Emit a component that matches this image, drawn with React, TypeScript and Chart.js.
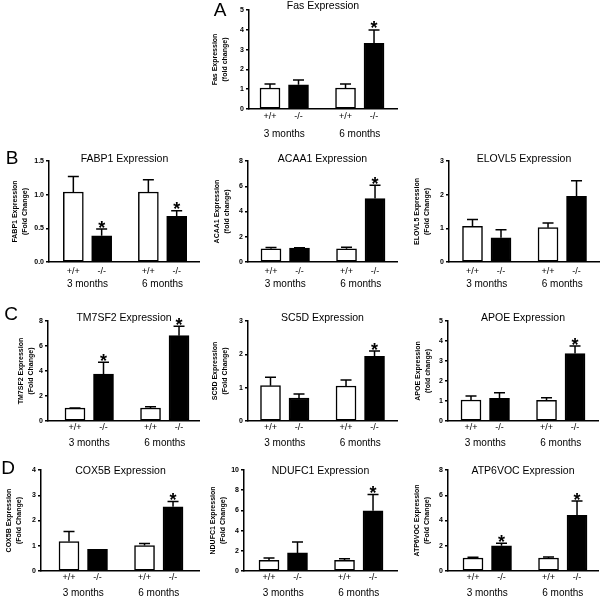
import React, { useEffect, useRef } from "react";
import { Chart, registerables } from "chart.js";

Chart.register(...registerables);

const FAMILY = '"Liberation Sans", Arial, Helvetica, sans-serif';

// ---- categories ----
const GENOTYPES = ["+/+", "-/-", "+/+", "-/-"];
const AGES = ["3 months", "6 months"];
const FILLS = ["#ffffff", "#000000", "#ffffff", "#000000"];

// ---- data (mean, SEM, significance) ----
const FAS_MEAN = [1.06, 1.22, 1.06, 3.32];
const FAS_SEM = [0.2, 0.24, 0.2, 0.67];
const FAS_SIG = [false, false, false, true];

const FABP1_MEAN = [1.04, 0.39, 1.04, 0.68];
const FABP1_SEM = [0.23, 0.1, 0.18, 0.08];
const FABP1_SIG = [false, true, false, true];

const ACAA1_MEAN = [1.05, 1.1, 1.05, 5.02];
const ACAA1_SEM = [0.1, 0.02, 0.12, 1.05];
const ACAA1_SIG = [false, false, false, true];

const ELOVL5_MEAN = [1.06, 0.72, 1.02, 1.95];
const ELOVL5_SEM = [0.2, 0.24, 0.14, 0.46];
const ELOVL5_SIG = [false, false, false, false];

const TM7SF2_MEAN = [1.03, 3.75, 1.04, 6.83];
const TM7SF2_SEM = [0.02, 0.96, 0.1, 0.75];
const TM7SF2_SIG = [false, true, false, true];

const SC5D_MEAN = [1.06, 0.69, 1.05, 1.94];
const SC5D_SEM = [0.25, 0.12, 0.18, 0.16];
const SC5D_SIG = [false, false, false, true];

const APOE_MEAN = [1.05, 1.13, 1.03, 3.37];
const APOE_SEM = [0.2, 0.28, 0.13, 0.38];
const APOE_SIG = [false, false, false, true];

const COX5B_MEAN = [1.17, 0.86, 1.01, 2.54];
const COX5B_SEM = [0.39, 0, 0.08, 0.21];
const COX5B_SIG = [false, false, false, true];

const NDUFC1_MEAN = [1.06, 1.79, 1.06, 5.96];
const NDUFC1_SEM = [0.23, 1.09, 0.16, 1.62];
const NDUFC1_SIG = [false, false, false, true];

const ATP6VOC_MEAN = [1.03, 2.0, 1.03, 4.41];
const ATP6VOC_SEM = [0.05, 0.19, 0.07, 1.13];
const ATP6VOC_SIG = [false, true, false, true];

// bar slot positions on the x scale (in bar-spacing units)
const POS = [0, 1, 2.65, 3.65];
const UNIT = 28.5;

type Panel = {
  title: string;
  yTitle: string[];
  mean: number[];
  sem: number[];
  sig: boolean[];
  yMax: number;
  yStep: number;
  decimals: number;
  left: number;
  top: number;
  width: number;
  height: number;
  axisX: number;
  plotTop: number;
  zero: number;
  right: number;
  c0: number;
  yTitleX: number;
  tickOff: number;
  monthOff: number;
  titleDy: number;
};

const PANELS: Panel[] = [
  { title: "Fas Expression", yTitle: ["Fas Expression", "(fold change)"], mean: FAS_MEAN, sem: FAS_SEM, sig: FAS_SIG, yMax: 5, yStep: 1, decimals: 0,
    left: 200, top: 0, width: 200, height: 140, axisX: 249, plotTop: 10, zero: 109, right: 397, c0: 270, yTitleX: 15, tickOff: 8, monthOff: 25, titleDy: -3.5 },
  { title: "FABP1 Expression", yTitle: ["FABP1 Expression", "(Fold Change)"], mean: FABP1_MEAN, sem: FABP1_SEM, sig: FABP1_SIG, yMax: 1.5, yStep: 0.5, decimals: 1,
    left: 0, top: 140, width: 200, height: 150, axisX: 49, plotTop: 161, zero: 262, right: 201, c0: 73.5, yTitleX: 15, tickOff: 10, monthOff: 22, titleDy: -2 },
  { title: "ACAA1 Expression", yTitle: ["ACAA1 Expression", "(fold change)"], mean: ACAA1_MEAN, sem: ACAA1_SEM, sig: ACAA1_SIG, yMax: 8, yStep: 2, decimals: 0,
    left: 200, top: 140, width: 200, height: 150, axisX: 248, plotTop: 161, zero: 262, right: 397, c0: 271, yTitleX: 17, tickOff: 10, monthOff: 22, titleDy: -2 },
  { title: "ELOVL5 Expression", yTitle: ["ELOVL5 Expression", "(Fold Change)"], mean: ELOVL5_MEAN, sem: ELOVL5_SEM, sig: ELOVL5_SIG, yMax: 3, yStep: 1, decimals: 0,
    left: 400, top: 140, width: 200, height: 150, axisX: 449, plotTop: 161, zero: 262, right: 599, c0: 472.5, yTitleX: 17, tickOff: 10, monthOff: 22, titleDy: -2 },
  { title: "TM7SF2 Expression", yTitle: ["TM7SF2 Expression", "(Fold Change)"], mean: TM7SF2_MEAN, sem: TM7SF2_SEM, sig: TM7SF2_SIG, yMax: 8, yStep: 2, decimals: 0,
    left: 0, top: 290, width: 200, height: 160, axisX: 48, plotTop: 321, zero: 421, right: 200, c0: 75, yTitleX: 21, tickOff: 7, monthOff: 22, titleDy: -2.5 },
  { title: "SC5D Expression", yTitle: ["SC5D Expression", "(Fold Change)"], mean: SC5D_MEAN, sem: SC5D_SEM, sig: SC5D_SIG, yMax: 3, yStep: 1, decimals: 0,
    left: 200, top: 290, width: 200, height: 160, axisX: 248, plotTop: 321, zero: 421, right: 397, c0: 270.5, yTitleX: 15, tickOff: 7, monthOff: 22, titleDy: -2.5 },
  { title: "APOE Expression", yTitle: ["APOE Expression", "(fold change)"], mean: APOE_MEAN, sem: APOE_SEM, sig: APOE_SIG, yMax: 5, yStep: 1, decimals: 0,
    left: 400, top: 290, width: 200, height: 160, axisX: 448, plotTop: 321, zero: 421, right: 598, c0: 471, yTitleX: 18, tickOff: 7, monthOff: 22, titleDy: -2.5 },
  { title: "COX5B Expression", yTitle: ["COX5B Expression", "(Fold Change)"], mean: COX5B_MEAN, sem: COX5B_SEM, sig: COX5B_SIG, yMax: 4, yStep: 1, decimals: 0,
    left: 0, top: 450, width: 200, height: 147, axisX: 41, plotTop: 470, zero: 571, right: 200, c0: 69, yTitleX: 9, tickOff: 7, monthOff: 22, titleDy: 1 },
  { title: "NDUFC1 Expression", yTitle: ["NDUFC1 Expression", "(Fold Change)"], mean: NDUFC1_MEAN, sem: NDUFC1_SEM, sig: NDUFC1_SIG, yMax: 10, yStep: 2, decimals: 0,
    left: 200, top: 450, width: 200, height: 147, axisX: 244, plotTop: 470, zero: 571, right: 397, c0: 269, yTitleX: 13.5, tickOff: 7, monthOff: 22, titleDy: 1 },
  { title: "ATP6VOC Expression", yTitle: ["ATP6VOC Expression", "(Fold Change)"], mean: ATP6VOC_MEAN, sem: ATP6VOC_SEM, sig: ATP6VOC_SIG, yMax: 8, yStep: 2, decimals: 0,
    left: 400, top: 450, width: 200, height: 147, axisX: 448, plotTop: 470, zero: 571, right: 598, c0: 473, yTitleX: 17, tickOff: 7, monthOff: 22, titleDy: 1 },
];

const LETTERS = [
  { t: "A", x: 220, y: 9 },
  { t: "B", x: 12, y: 157 },
  { t: "C", x: 11, y: 313 },
  { t: "D", x: 8, y: 467 },
];

function decor(p: Panel) {
  return {
    id: "decor",
    afterDatasetsDraw(chart: any) {
      const ctx = chart.ctx as CanvasRenderingContext2D;
      const ys = chart.scales.y;
      const meta = chart.getDatasetMeta(0);
      ctx.save();
      ctx.strokeStyle = "#000";
      ctx.fillStyle = "#000";
      ctx.lineWidth = 1.5;
      meta.data.forEach((bar: any, i: number) => {
        const x = bar.x;
        const yb = ys.getPixelForValue(p.mean[i]);
        const yt = ys.getPixelForValue(p.mean[i] + p.sem[i]);
        if (p.sem[i] > 0) {
          ctx.beginPath();
          ctx.moveTo(x, yb);
          ctx.lineTo(x, yt);
          ctx.moveTo(x - 5.5, yt);
          ctx.lineTo(x + 5.5, yt);
          ctx.stroke();
        }
        if (p.sig[i]) {
          ctx.font = `bold 18px ${FAMILY}`;
          ctx.textAlign = "center";
          ctx.textBaseline = "alphabetic";
          ctx.fillText("*", x, yt + 4.5);
        }
      });
      const ca = chart.chartArea;
      ctx.font = `10.5px ${FAMILY}`;
      ctx.textAlign = "center";
      ctx.textBaseline = "middle";
      ctx.fillText(p.title, (ca.left + ca.right) / 2, ca.top + p.titleDy);
      ctx.restore();
    },
  };
}

function PanelChart({ p }: { p: Panel }) {
  const ref = useRef<HTMLCanvasElement>(null);
  useEffect(() => {
    const xMin = -(p.c0 - p.axisX) / UNIT;
    const xMax = xMin + (p.right - p.axisX) / UNIT;
    const groupCenters = [(POS[0] + POS[1]) / 2, (POS[2] + POS[3]) / 2];
    const yWidth = p.axisX - p.left;
    const zeroRel = p.zero - p.top;
    const hx = 12;
    const hx2 = p.height - zeroRel - hx;
    const lh = 7 * 1.4;
    const chart = new Chart(ref.current as HTMLCanvasElement, {
      type: "bar",
      data: {
        datasets: [
          {
            data: p.mean.map((m, i) => ({ x: POS[i], y: m })) as any,
            backgroundColor: FILLS,
            borderColor: "#000",
            borderWidth: 1.5,
            borderSkipped: false,
            barThickness: 20,
          } as any,
        ],
      },
      options: {
        responsive: false,
        animation: false,
        devicePixelRatio: 1,
        layout: { padding: { left: 0, top: p.plotTop - p.top, right: p.left + p.width - p.right, bottom: 0 } },
        plugins: { legend: { display: false }, tooltip: { enabled: false }, title: { display: false } },
        scales: {
          x: {
            type: "linear",
            position: "bottom",
            min: xMin,
            max: xMax,
            offset: false,
            weight: 0,
            grid: { display: false, drawTicks: false, offset: false },
            border: { display: true, color: "#000", width: 1.5 },
            afterBuildTicks: (s: any) => {
              s.ticks = POS.map((v) => ({ value: v }));
            },
            afterFit: (s: any) => {
              s.height = hx;
            },
            ticks: {
              autoSkip: false,
              maxRotation: 0,
              minRotation: 0,
              padding: p.tickOff - 5.4,
              color: "#000",
              font: { family: FAMILY, size: 9, lineHeight: 1.2 },
              callback: (_v: any, i: number) => GENOTYPES[i],
            },
          } as any,
          x2: {
            type: "linear",
            axis: "x",
            position: "bottom",
            min: xMin,
            max: xMax,
            offset: false,
            weight: 1,
            grid: { display: false, drawTicks: false, offset: false },
            border: { display: false },
            afterBuildTicks: (s: any) => {
              s.ticks = groupCenters.map((v) => ({ value: v }));
            },
            afterFit: (s: any) => {
              s.height = hx2;
            },
            ticks: {
              autoSkip: false,
              maxRotation: 0,
              minRotation: 0,
              padding: p.monthOff - hx - 6,
              color: "#000",
              font: { family: FAMILY, size: 10, lineHeight: 1.2 },
              callback: (_v: any, i: number) => AGES[i],
            },
          } as any,
          y: {
            type: "linear",
            min: 0,
            max: p.yMax,
            afterFit: (s: any) => {
              s.width = yWidth;
            },
            ticks: {
              stepSize: p.yStep,
              color: "#000",
              padding: 2,
              font: { family: FAMILY, size: 7, weight: "bold" },
              callback: (v: any) => Number(v).toFixed(p.decimals),
            },
            grid: { drawOnChartArea: false, drawTicks: true, tickLength: 3, color: "#000", lineWidth: 1.5 },
            border: { display: true, color: "#000", width: 1.5 },
            title: {
              display: true,
              text: p.yTitle,
              color: "#000",
              font: { family: FAMILY, size: 7, weight: "bold", lineHeight: 1.4 },
              padding: { top: p.yTitleX - lh / 2, bottom: 0 },
            },
          } as any,
        },
      },
      plugins: [decor(p)],
    });
    return () => chart.destroy();
  }, [p]);
  return (
    <canvas
      ref={ref}
      width={p.width}
      height={p.height}
      style={{ position: "absolute", left: p.left, top: p.top, width: p.width, height: p.height, display: "block" }}
    />
  );
}

export default function App() {
  return (
    <div style={{ position: "absolute", left: 0, top: 0, width: 600, height: 597, background: "#fff", overflow: "hidden" }}>
      {PANELS.map((p) => (
        <PanelChart key={p.title} p={p} />
      ))}
      {LETTERS.map((l) => (
        <div
          key={l.t}
          style={{
            position: "absolute",
            left: l.x - 10,
            top: l.y - 9.5,
            width: 20,
            textAlign: "center",
            fontFamily: FAMILY,
            fontSize: 19,
            lineHeight: "19px",
            color: "#000",
          }}
        >
          {l.t}
        </div>
      ))}
    </div>
  );
}
